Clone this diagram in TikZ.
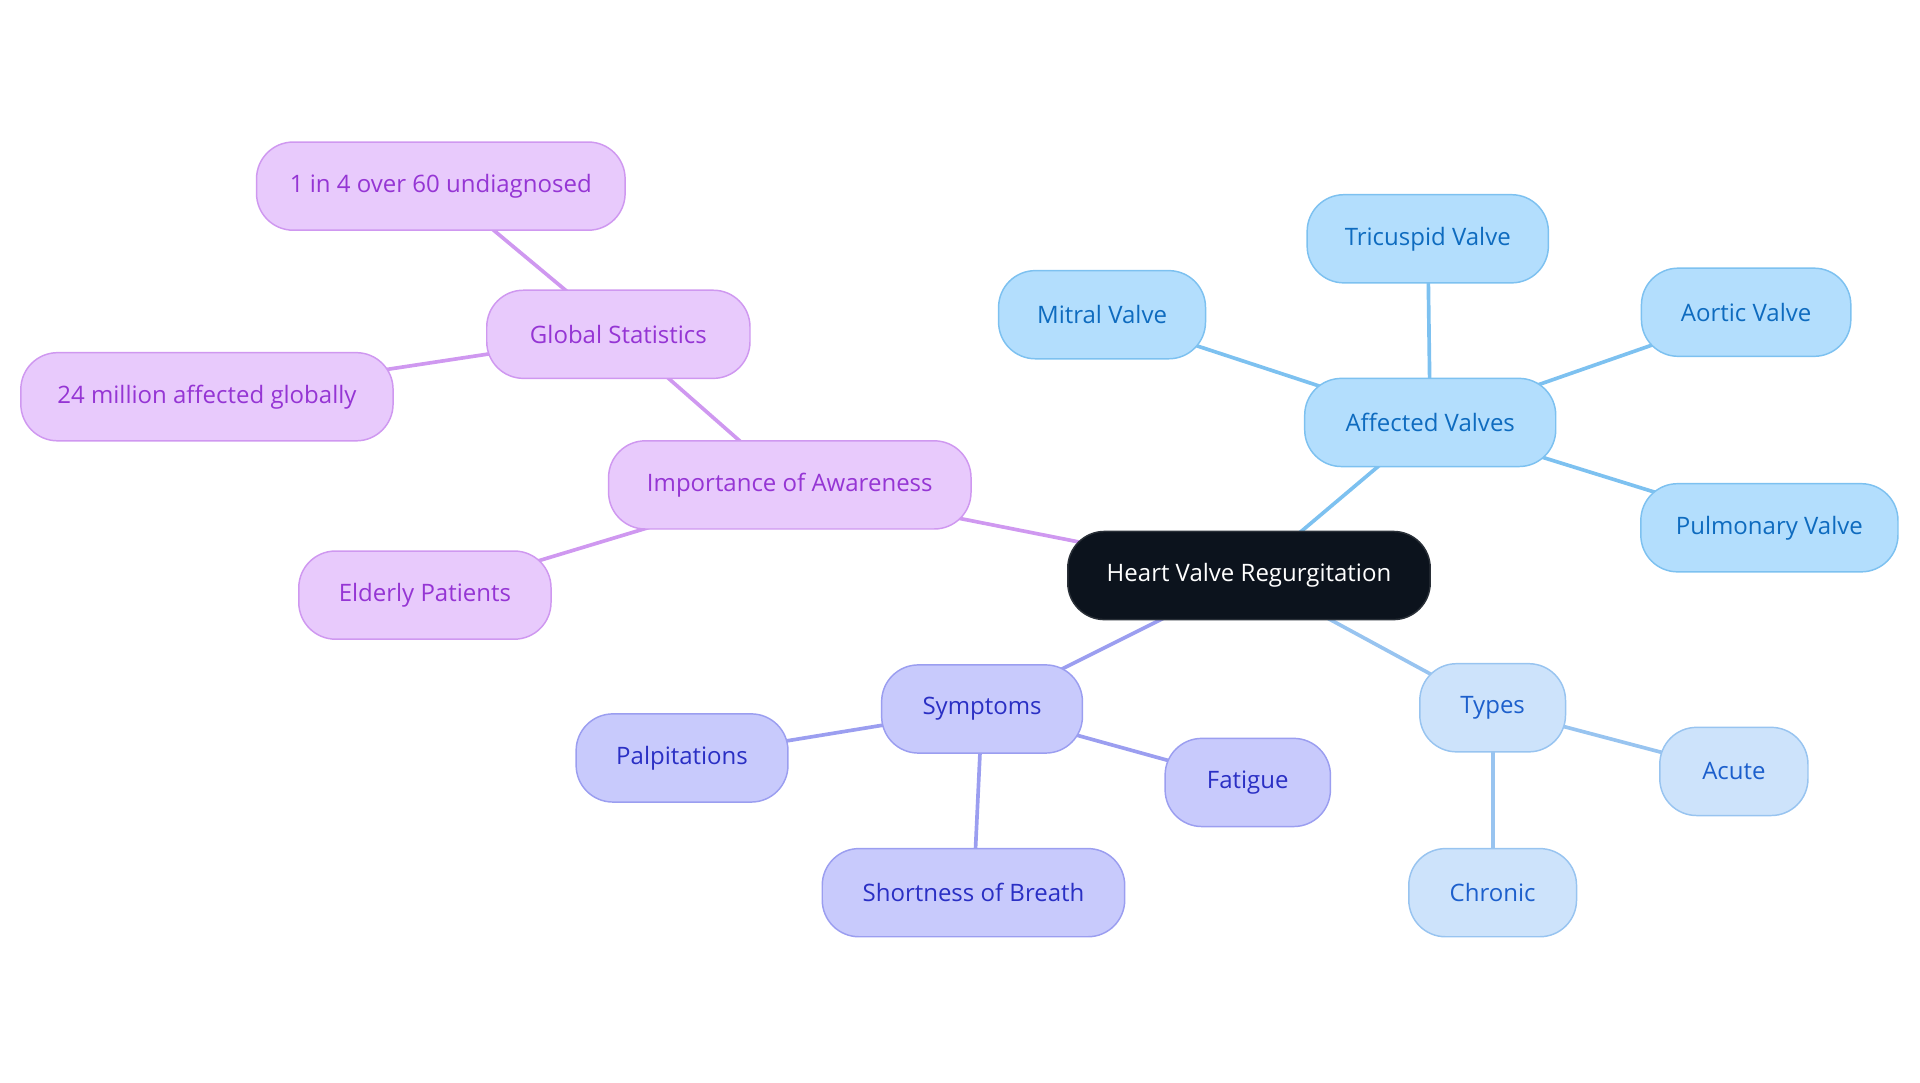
\documentclass[tikz,border=0pt]{standalone}
\usepackage{fontspec}
\setmainfont{Open Sans}
\usetikzlibrary{backgrounds}
\definecolor{rootfill}{HTML}{0C131D}
\definecolor{rootdraw}{HTML}{2A3038}
\definecolor{vfill}{HTML}{B3DEFD}
\definecolor{vdraw}{HTML}{7DC1F0}
\definecolor{vtext}{HTML}{0E6BBF}
\definecolor{tfill}{HTML}{CDE3FB}
\definecolor{tdraw}{HTML}{98C4F0}
\definecolor{ttext}{HTML}{1C5FCC}
\definecolor{sfill}{HTML}{C8CAFC}
\definecolor{sdraw}{HTML}{9B9EF0}
\definecolor{stext}{HTML}{2A2FC4}
\definecolor{afill}{HTML}{E8CAFC}
\definecolor{adraw}{HTML}{CF98F0}
\definecolor{atext}{HTML}{9535D4}
\tikzset{
  pill/.style={rounded corners=30pt, minimum height=72pt, inner xsep=4pt, inner ysep=0pt, line width=1.2pt, font=\fontsize{19.6}{23}\selectfont},
  rootnode/.style={pill, fill=rootfill, draw=rootdraw, text=white},
  vnode/.style={pill, fill=vfill, draw=vdraw, text=vtext},
  tnode/.style={pill, fill=tfill, draw=tdraw, text=ttext},
  snode/.style={pill, fill=sfill, draw=sdraw, text=stext},
  anode/.style={pill, fill=afill, draw=adraw, text=atext},
  vedge/.style={draw=vdraw, line width=3pt},
  tedge/.style={draw=tdraw, line width=3pt},
  sedge/.style={draw=sdraw, line width=3pt},
  aedge/.style={draw=adraw, line width=3pt}
}
\begin{document}
\begin{tikzpicture}[x=1pt,y=-1pt]
\useasboundingbox (0,0) rectangle (1568,884);
\node[rootnode, minimum width=296pt] (root) at (1020,470) {Heart Valve Regurgitation};
\node[vnode, minimum width=205pt] (aff) at (1168,345) {Affected Valves};
\node[vnode, minimum width=169pt] (mit) at (900,257) {Mitral Valve};
\node[vnode, minimum width=197pt] (tri) at (1166,195) {Tricuspid Valve};
\node[vnode, minimum width=171pt] (aor) at (1426,255) {Aortic Valve};
\node[vnode, minimum width=210pt] (pul) at (1445,431) {Pulmonary Valve};
\node[tnode, minimum width=119pt] (typ) at (1219,578) {Types};
\node[tnode, minimum width=121pt] (acu) at (1416,630) {Acute};
\node[tnode, minimum width=137pt] (chr) at (1219,729) {Chronic};
\node[snode, minimum width=164pt] (sym) at (802,579) {Symptoms};
\node[snode, minimum width=173pt] (pal) at (557,619) {Palpitations};
\node[snode, minimum width=135pt] (fat) at (1019,639) {Fatigue};
\node[snode, minimum width=247pt] (sob) at (795,729) {Shortness of Breath};
\node[anode, minimum width=296pt] (imp) at (645,396) {Importance of Awareness};
\node[anode, minimum width=215pt] (glo) at (505,273) {Global Statistics};
\node[anode, minimum width=301pt] (one) at (360,152) {1 in 4 over 60 undiagnosed};
\node[anode, minimum width=304pt] (mil) at (169,324) {24 million affected globally};
\node[anode, minimum width=206pt] (eld) at (347,486) {Elderly Patients};
\begin{scope}[on background layer]
\draw[vedge] (root.center) -- (aff.center);
\draw[vedge] (aff.center) -- (mit.center);
\draw[vedge] (aff.center) -- (tri.center);
\draw[vedge] (aff.center) -- (aor.center);
\draw[vedge] (aff.center) -- (pul.center);
\draw[tedge] (root.center) -- (typ.center);
\draw[tedge] (typ.center) -- (acu.center);
\draw[tedge] (typ.center) -- (chr.center);
\draw[sedge] (root.center) -- (sym.center);
\draw[sedge] (sym.center) -- (pal.center);
\draw[sedge] (sym.center) -- (fat.center);
\draw[sedge] (sym.center) -- (sob.center);
\draw[aedge] (root.center) -- (imp.center);
\draw[aedge] (imp.center) -- (glo.center);
\draw[aedge] (glo.center) -- (one.center);
\draw[aedge] (glo.center) -- (mil.center);
\draw[aedge] (imp.center) -- (eld.center);
\end{scope}
\end{tikzpicture}
\end{document}
